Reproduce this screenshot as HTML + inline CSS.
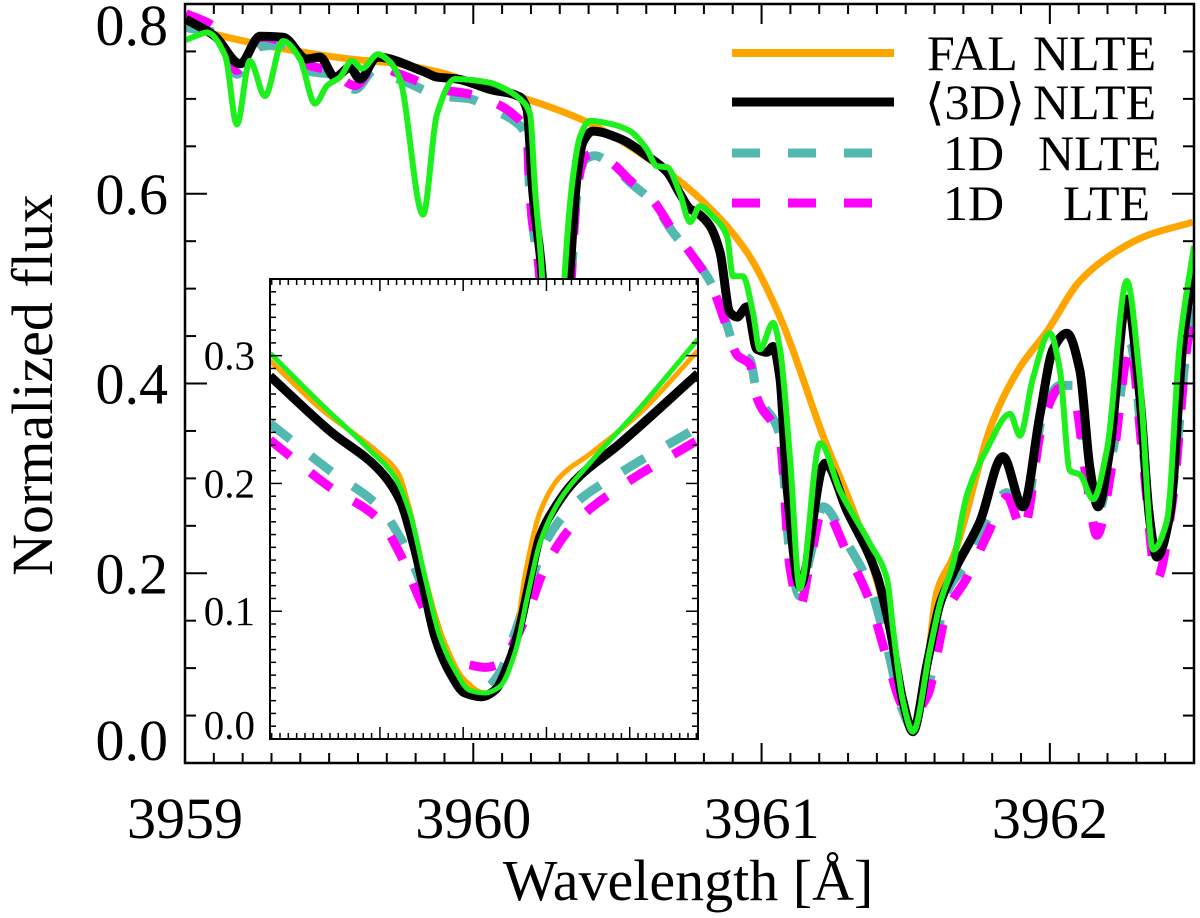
<!DOCTYPE html>
<html><head><meta charset="utf-8"><style>
html,body{margin:0;padding:0;background:#fff;}
svg text{font-family:"Liberation Serif",serif;fill:#000;}
</style></head><body>
<svg id="chart" width="1200" height="913" viewBox="0 0 1200 913" xmlns="http://www.w3.org/2000/svg">
<defs>
<clipPath id="mainClip"><rect x="185" y="4" width="1009" height="759"/></clipPath>
<clipPath id="insetClip"><rect x="270" y="279" width="428" height="460"/></clipPath>
</defs>
<g id="main"></g>
<g id="inset"></g>
<g id="legend">
<line x1="732" y1="53" x2="894" y2="53" stroke="#ffa500" stroke-width="8"/>
<line x1="732" y1="102" x2="894" y2="102" stroke="#000" stroke-width="9"/>
<line x1="732" y1="153" x2="894" y2="153" stroke="#52b8b0" stroke-width="9" stroke-dasharray="28 28"/>
<line x1="732" y1="203" x2="894" y2="203" stroke="#ff00ff" stroke-width="9" stroke-dasharray="28 28"/>
<text x="927" y="70" font-size="50">FAL</text>
<text x="1033" y="70" font-size="50">NLTE</text>
<text x="925" y="119" font-size="50">⟨3D⟩</text>
<text x="1033" y="119" font-size="50">NLTE</text>
<text x="943" y="170" font-size="50">1D</text>
<text x="1038" y="170" font-size="50">NLTE</text>
<text x="943" y="220" font-size="50">1D</text>
<text x="1063" y="220" font-size="50">LTE</text>
</g>
<text x="688" y="900" font-size="58" text-anchor="middle">Wavelength [Å]</text>
<text transform="translate(52,385) rotate(-90)" font-size="58" text-anchor="middle">Normalized flux</text>
</svg>
<script>
// ---- main plot data ----
const xTicksMajor = [3959, 3960, 3961, 3962];
const xTickLabels = ["3959", "3960", "3961", "3962"];
const yTicksMajor = [0.0, 0.2, 0.4, 0.6, 0.8];
const yTickLabels = ["0.0", "0.2", "0.4", "0.6", "0.8"];

const falWl = [3959.003,3959.3,3959.572,3959.711,3959.884,3960.023,3960.15,3960.37,3960.66,3960.786,3960.95,3961.064,3961.213,3961.35,3961.445,3961.49,3961.525,3961.565,3961.608,3961.664,3961.803,3961.896,3961.99,3962.104,3962.219,3962.337,3962.496];
const falFlux = [.775,.755,.742,.738,.728,.714,.703,.679,.626,.595,.538,.470,.345,.240,.140,.070,.036,.080,.180,.217,.361,.417,.455,.508,.537,.556,.570];

const d3Wl = [3959.003,3959.104,3959.191,3959.26,3959.34,3959.423,3959.468,3959.52,3959.572,3959.607,3959.666,3959.826,3959.874,3959.943,3960.058,3960.162,3960.186,3960.207,3960.238,3960.283,3960.335,3960.36,3960.38,3960.415,3960.509,3960.602,3960.672,3960.717,3960.752,3960.776,3960.821,3960.856,3960.89,3960.915,3960.949,3960.984,3961.019,3961.04,3961.064,3961.088,3961.133,3961.22,3961.296,3961.4,3961.445,3961.49,3961.525,3961.574,3961.619,3961.664,3961.758,3961.837,3961.907,3961.966,3962.011,3962.059,3962.104,3962.139,3962.167,3962.208,3962.267,3962.312,3962.347,3962.371,3962.417,3962.462,3962.5];
const d3Flux = [.784,.766,.737,.766,.765,.742,.744,.723,.733,.721,.744,.729,.723,.721,.710,.702,.689,.600,.517,.250,.515,.618,.654,.666,.658,.640,.623,.600,.584,.580,.566,.538,.475,.470,.481,.436,.433,.439,.405,.292,.187,.316,.266,.198,.142,.066,.033,.104,.168,.200,.255,.323,.270,.368,.436,.453,.414,.311,.270,.330,.489,.387,.255,.217,.263,.443,.525];

const n1Wl = [3959.003,3959.104,3959.18,3959.26,3959.347,3959.434,3959.503,3959.59,3959.659,3959.746,3959.78,3959.884,3959.989,3960.058,3960.145,3960.186,3960.197,3960.231,3960.283,3960.34,3960.36,3960.387,3960.422,3960.474,3960.544,3960.623,3960.693,3960.752,3960.831,3960.873,3960.915,3960.96,3960.984,3961.064,3961.099,3961.133,3961.168,3961.213,3961.296,3961.376,3961.435,3961.49,3961.525,3961.574,3961.643,3961.712,3961.782,3961.851,3961.907,3961.976,3962.035,3962.08,3962.129,3962.163,3962.219,3962.278,3962.323,3962.371,3962.427,3962.476,3962.503];
const n1Flux = [.775,.770,.726,.755,.757,.729,.726,.710,.731,.720,.716,.703,.700,.690,.676,.658,.594,.510,.250,.510,.601,.636,.640,.632,.612,.591,.559,.538,.502,.468,.433,.425,.390,.345,.217,.176,.217,.270,.232,.186,.123,.055,.036,.074,.180,.211,.256,.285,.255,.368,.398,.398,.311,.263,.330,.443,.330,.213,.292,.443,.489];

const l1Wl = n1Wl;
const l1Flux = [.790,.775,.730,.765,.760,.735,.730,.714,.735,.726,.722,.710,.705,.698,.682,.662,.597,.512,.250,.512,.604,.639,.642,.634,.614,.593,.561,.538,.500,.465,.430,.420,.385,.340,.205,.165,.212,.268,.222,.170,.110,.060,.052,.070,.160,.195,.240,.280,.245,.360,.395,.390,.295,.240,.320,.440,.320,.194,.280,.440,.485];

const g3Wl = [3959.003,3959.052,3959.076,3959.14,3959.18,3959.225,3959.277,3959.34,3959.399,3959.451,3959.493,3959.538,3959.579,3959.614,3959.669,3959.711,3959.746,3959.826,3959.874,3959.937,3960.058,3960.093,3960.162,3960.197,3960.214,3960.235,3960.283,3960.318,3960.346,3960.37,3960.405,3960.485,3960.544,3960.602,3960.637,3960.672,3960.717,3960.752,3960.786,3960.831,3960.88,3960.901,3960.935,3960.97,3960.994,3961.04,3961.064,3961.099,3961.133,3961.203,3961.272,3961.376,3961.435,3961.456,3961.49,3961.525,3961.584,3961.619,3961.664,3961.712,3961.782,3961.862,3961.896,3961.941,3962.0,3962.035,3962.07,3962.104,3962.15,3962.198,3962.267,3962.312,3962.358,3962.406,3962.451,3962.5];
const g3Flux = [.762,.768,.770,.745,.673,.740,.703,.761,.742,.695,.714,.723,.740,.732,.747,.739,.720,.578,.684,.721,.717,.713,.700,.684,.605,.531,.250,.520,.618,.660,.677,.673,.666,.647,.629,.628,.600,.570,.587,.576,.555,.513,.513,.475,.436,.464,.436,.320,.184,.337,.287,.231,.194,.142,.066,.033,.119,.168,.210,.282,.331,.368,.345,.405,.453,.414,.308,.304,.278,.330,.508,.405,.225,.255,.443,.545];

// ---- inset data (x: offset units, y: flux) ----
const insetYTicks = [0.0, 0.1, 0.2, 0.3];
const insetYLabels = ["0.0", "0.1", "0.2", "0.3"];
const insFalX = [0,30,66,77,84,93,105,117,129,138,147,153,162,174,192,222,257];
const insFalY = [.296,.259,.223,.208,.179,.127,.075,.046,.036,.044,.075,.127,.177,.205,.223,.255,.304];
const ins3dX = [0,36,66,78,87,93,99,108,117,127,135,144,150,156,162,171,183,210,257];
const ins3dY = [.284,.241,.210,.187,.148,.114,.080,.052,.036,.033,.038,.062,.088,.124,.158,.181,.202,.231,.286];
const insG3X = [0,30,60,75,84,93,102,111,120,129,138,147,155,162,174,192,222,257];
const insG3Y = [.302,.263,.226,.205,.177,.127,.080,.054,.038,.036,.041,.067,.114,.153,.187,.216,.259,.313];
const insN1X = [0,36,66,78,90,99,108,120,129,138,147,156,165,183,210,257];
const insN1Y = [.247,.210,.181,.158,.124,.088,.056,.041,.040,.052,.083,.119,.153,.184,.208,.244];
const insL1X = insN1X;
const insL1Y = [.234,.197,.171,.145,.109,.083,.064,.058,.056,.059,.077,.103,.134,.169,.197,.234];

const NS = "http://www.w3.org/2000/svg";
function mk(tag, attrs, parent){const e=document.createElementNS(NS,tag);for(const k in attrs)e.setAttribute(k,attrs[k]);parent.appendChild(e);return e;}

const MX0=185, MX1=1194, MY0=763, MY1=4;
const xMin=3959, xMax=3962.5, yMin=0, yMax=0.8;
const mx = v => MX0 + (v-xMin)/(xMax-xMin)*(MX1-MX0);
const my = v => MY0 - (v-yMin)/(yMax-yMin)*(MY0-MY1);
const IX0=270, IX1=698, IY0=739, IY1=279;
const ixMin=0, ixMax=257, iyMin=0, iyMax=0.36;
const ix = v => IX0 + (v-ixMin)/(ixMax-ixMin)*(IX1-IX0);
const iy = v => IY0 - (v-iyMin)/(iyMax-iyMin)*(IY0-IY1);

function monoPath(xs, ys){
  const n=xs.length; if(n<2) return "";
  const dx=[],s=[];
  for(let i=0;i<n-1;i++){dx.push(xs[i+1]-xs[i]); s.push((ys[i+1]-ys[i])/(dx[i]||1e-9));}
  const m=[s[0]];
  for(let i=1;i<n-1;i++){ if(s[i-1]*s[i]<=0) m.push(0); else { const w1=2*dx[i]+dx[i-1], w2=dx[i]+2*dx[i-1]; m.push((w1+w2)/(w1/s[i-1]+w2/s[i])); } }
  m.push(s[n-2]);
  let d="M"+xs[0].toFixed(1)+","+ys[0].toFixed(1);
  for(let i=0;i<n-1;i++){const h=dx[i]/3;
    d+="C"+(xs[i]+h).toFixed(1)+","+(ys[i]+m[i]*h).toFixed(1)+" "+(xs[i+1]-h).toFixed(1)+","+(ys[i+1]-m[i+1]*h).toFixed(1)+" "+xs[i+1].toFixed(1)+","+ys[i+1].toFixed(1);}
  return d;
}

const main=document.getElementById('main');
const mainSeries = mk('g',{'clip-path':'url(#mainClip)'},main);


function addLine(parent, xs, ys, fx, fy, color, w, dash, name){
  const p=mk('path',{d:monoPath(xs.map(fx),ys.map(fy)),fill:'none',stroke:color,'stroke-width':w,'stroke-linejoin':'round'},parent);
  if(dash) p.setAttribute('stroke-dasharray',dash);
  
  
}
addLine(mainSeries,falWl,falFlux,mx,my,'#ffa500',7,null,'fal-nlte-line');
addLine(mainSeries,n1Wl,n1Flux,mx,my,'#52b8b0',9,'28 28','1d-nlte-line');
addLine(mainSeries,l1Wl,l1Flux,mx,my,'#ff00ff',9,'28 28','1d-lte-line');
addLine(mainSeries,d3Wl,d3Flux,mx,my,'#000',9,null,'3d-nlte-line');
addLine(mainSeries,g3Wl,g3Flux,mx,my,'#1ef01e',6,null,'3d-full-line');

const frame=mk('rect',{x:MX0,y:MY1,width:MX1-MX0,height:MY0-MY1,fill:'none',stroke:'#000','stroke-width':2.5},main);


const tg=mk('g',{stroke:'#000','stroke-width':2},main);


for(let k=0;k<=35;k++){const v=xMin+k*0.1; const X=mx(v); const major=(k%10===0); const L=major?20:10;
  mk('line',{x1:X,y1:MY0,x2:X,y2:MY0-L},tg); mk('line',{x1:X,y1:MY1,x2:X,y2:MY1+L},tg);}
for(let k=0;k<=16;k++){const v=k*0.05; const Y=my(v); const major=(k%4===0); const L=major?22:11;
  mk('line',{x1:MX0,y1:Y,x2:MX0+L,y2:Y},tg); mk('line',{x1:MX1,y1:Y,x2:MX1-L,y2:Y},tg);}
xTicksMajor.forEach((v,i)=>{const t=mk('text',{x:mx(v),y:838,'font-size':58,'text-anchor':'middle'},main);t.textContent=xTickLabels[i];
  
  });
yTicksMajor.forEach((v,i)=>{let c=my(v); c=Math.max(25,Math.min(740,c));
  const t=mk('text',{x:168,y:c+20,'font-size':58,'text-anchor':'end'},main);t.textContent=yTickLabels[i];
  
  });

const inset=document.getElementById('inset');
const ibg=mk('rect',{x:IX0,y:IY1,width:IX1-IX0,height:IY0-IY1,fill:'#fff'},inset);


const insSeries=mk('g',{'clip-path':'url(#insetClip)'},inset);


addLine(insSeries,insN1X,insN1Y,ix,iy,'#52b8b0',9,'26 26','inset-1d-nlte-line');
addLine(insSeries,insL1X,insL1Y,ix,iy,'#ff00ff',9,'26 26','inset-1d-lte-line');
addLine(insSeries,insFalX,insFalY,ix,iy,'#ffa500',5,null,'inset-fal-nlte-line');
addLine(insSeries,ins3dX,ins3dY,ix,iy,'#000',9,null,'inset-3d-nlte-line');
addLine(insSeries,insG3X,insG3Y,ix,iy,'#1ef01e',5,null,'inset-3d-full-line');
const iframe=mk('rect',{x:IX0,y:IY1,width:IX1-IX0,height:IY0-IY1,fill:'none',stroke:'#000','stroke-width':2},inset);


const itg=mk('g',{stroke:'#000','stroke-width':1.5},inset);


for(let v=1;v<=256;v+=5){const X=ix(v); const major=((v-66)%50===0)&&v>=66; const L=major?12:6;
  mk('line',{x1:X,y1:IY0,x2:X,y2:IY0-L},itg); mk('line',{x1:X,y1:IY1,x2:X,y2:IY1+L},itg);}
for(let k=0;k<=36;k++){const v=k*0.01; const Y=iy(v); const major=(k%10===0); const L=major?12:6;
  mk('line',{x1:IX0,y1:Y,x2:IX0+L,y2:Y},itg); mk('line',{x1:IX1,y1:Y,x2:IX1-L,y2:Y},itg);}
insetYTicks.forEach((v,i)=>{let c=iy(v); c=Math.min(725,c);
  const t=mk('text',{x:255,y:c+14,'font-size':41,'text-anchor':'end'},inset);t.textContent=insetYLabels[i];
  
  });
</script>
</body></html>
